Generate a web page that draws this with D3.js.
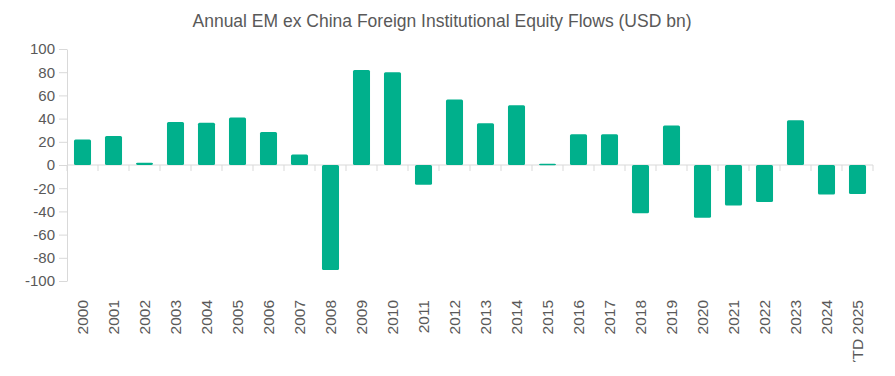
<!DOCTYPE html>
<html>
<head>
<meta charset="utf-8">
<script src="https://cdn.jsdelivr.net/npm/d3@7"></script>
<style>
  body { margin: 0; background: #fff; }
  #chart svg { display: block; overflow: hidden; }
</style>
</head>
<body>
<div id="chart"></div>
<script>
/* Annual EM ex China foreign equity flows */

const years = ["2000", "2001", "2002", "2003", "2004", "2005", "2006", "2007", "2008", "2009",
               "2010", "2011", "2012", "2013", "2014", "2015", "2016", "2017", "2018", "2019",
               "2020", "2021", "2022", "2023", "2024", "YTD 2025"];
const flows = [22, 25, 2, 37, 36.5, 41, 28.5, 9, -90.5, 82,
               80, -17, 56.5, 36, 51.5, 1, 26.5, 26.5, -41.5, 34,
               -45.5, -35, -32, 38.5, -25.5, -25];
const yTicks = [-100, -80, -60, -40, -20, 0, 20, 40, 60, 80, 100];

const data = years.map((d, i) => ({ year: d, value: flows[i] }));

const width = 895,
      height = 362,
      margin = ({ top: 49, right: 22, bottom: 81, left: 67 });

const svg = d3.select("#chart")
    .append("svg")
    .attr("width", width)
    .attr("height", height)
    .attr("viewBox", [0, 0, width, height]);

const x = d3.scaleBand()
    .domain(years)
    .range([margin.left, width - margin.right])
    .paddingInner(0.45)
    .paddingOuter(0.225);

const y = d3.scaleLinear()
    .domain([-100, 100])
    .range([height - margin.bottom, margin.top]);

const axisColor = "#d9d9d9",
      textColor = "#595959",
      font = "Liberation Sans, Arial, sans-serif";

// title
svg.append("text")
    .attr("x", 442)
    .attr("y", 27)
    .attr("text-anchor", "middle")
    .attr("font-family", font)
    .attr("font-size", 17.5)
    .attr("fill", textColor)
    .text("Annual EM ex China Foreign Institutional Equity Flows (USD bn)");

// y axis
const yAxis = svg.append("g")
    .attr("transform", `translate(${margin.left}, 0)`)
    .call(d3.axisLeft(y)
        .tickValues(yTicks)
        .tickFormat(d => String(d))   // plain hyphen like the original
        .tickSize(8)
        .tickPadding(4)
        .tickSizeOuter(0));

yAxis.select(".domain").attr("stroke", axisColor);
yAxis.selectAll(".tick line").attr("stroke", axisColor);
yAxis.selectAll(".tick text")
    .attr("fill", textColor)
    .attr("font-family", font)
    .attr("font-size", 15);

// zero line with category boundary ticks
const step = x.step(),
      edge = d => x(d) - step * x.paddingOuter();

svg.append("line")
    .attr("x1", margin.left)
    .attr("x2", width - margin.right)
    .attr("y1", y(0))
    .attr("y2", y(0))
    .attr("stroke", axisColor);

svg.append("g")
    .selectAll("line")
    .data(years.concat(["end"]))
    .join("line")
    .attr("x1", (d, i) => i < years.length ? edge(d) : x.range()[1])
    .attr("x2", (d, i) => i < years.length ? edge(d) : x.range()[1])
    .attr("y1", y(0))
    .attr("y2", y(0) + 6)
    .attr("stroke", axisColor);

// bars
svg.append("g")
    .selectAll("rect")
    .data(data)
    .join("rect")
    .attr("fill", "#00b08c")
    .attr("rx", 1.5)
    .attr("x", d => x(d.year))
    .attr("width", x.bandwidth())
    .attr("y", d => y(Math.max(0, d.value)))
    .attr("height", d => Math.max(1.5, Math.abs(y(d.value) - y(0))));

// category labels
svg.append("g")
    .selectAll("text")
    .data(years)
    .join("text")
    .attr("transform", d => `translate(${x(d) + x.bandwidth() / 2}, 300) rotate(-90)`)
    .attr("text-anchor", "end")
    .attr("dy", "0.35em")
    .attr("font-family", font)
    .attr("font-size", 15.5)
    .attr("fill", textColor)
    .text(d => d);
</script>
</body>
</html>
